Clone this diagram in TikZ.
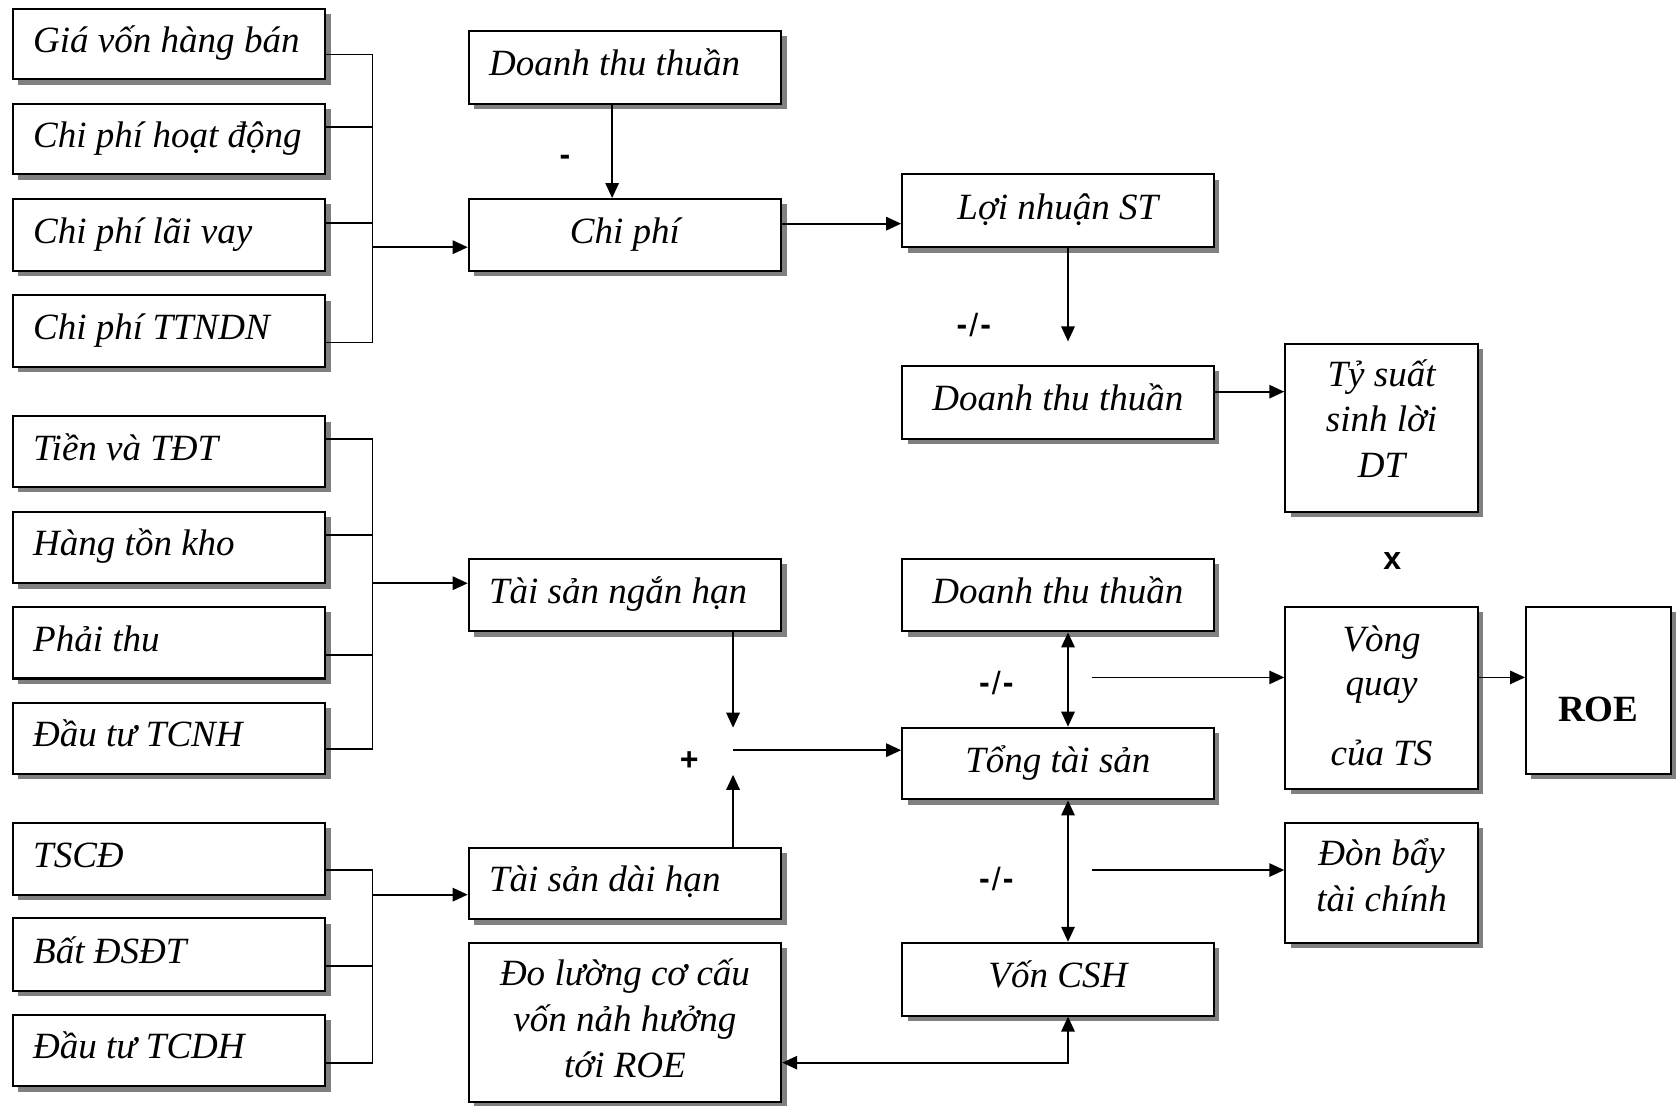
\documentclass[tikz,border=0pt]{standalone}
\usepackage{fontspec}
\setmainfont{Liberation Serif}
\newfontfamily\signfont{Liberation Sans}
\usetikzlibrary{arrows.meta,shadows}
\definecolor{shadowgray}{RGB}{128,128,128}
% left-aligned label of fixed width inside a box
\newcommand\lefttext[1]{\makebox[254pt][l]{#1}}
% division sign between two ratios
\newcommand\divsign{{\bfseries-}\kern2pt\raisebox{-1pt}{/}\kern2pt{\bfseries-}}
\begin{document}
\begin{tikzpicture}[x=1pt,y=-1pt,
  box/.style={rectangle, draw, line width=1.9pt, fill=white, inner sep=0pt,
    general shadow={fill=shadowgray, shadow xshift=5pt, shadow yshift=-5pt}},
  bigfont/.style={font=\fontsize{34.6pt}{42.5pt}\selectfont\itshape},
  txt/.style={bigfont, text height=24pt, text depth=8pt},
  lbox/.style={box, txt, minimum width=292pt},
  cbox/.style={box, txt, minimum width=291pt, align=center},
  line/.style={bigfont, anchor=base, inner sep=0pt},
  sign/.style={font=\signfont\fontsize{30pt}{34pt}\selectfont, inner sep=0pt},
  bsign/.style={font=\signfont\bfseries\fontsize{30pt}{34pt}\selectfont, inner sep=0pt},
  conn/.style={line width=1.7pt},
  arr/.style={conn, -{Triangle[length=14pt,width=12.5pt]}},
  dbl/.style={conn, {Triangle[length=14pt,width=12.5pt]}-{Triangle[length=14pt,width=12.5pt]}}
]
\useasboundingbox (0,0) rectangle (1568,1033);

% ---- cost items ----
\node[lbox, minimum height=66pt] (gv)   at (158,41)    {\lefttext{Giá vốn hàng bán}};
\node[lbox, minimum height=66pt] (cphd) at (158,130)   {\lefttext{Chi phí hoạt động}};
\node[lbox, minimum height=67pt] (clv)  at (158,219.5) {\lefttext{Chi phí lãi vay}};
\node[lbox, minimum height=67pt] (ctt)  at (158,309.5) {\lefttext{Chi phí TTNDN}};

% ---- current assets ----
\node[lbox, minimum height=66pt] (tien) at (158,422)   {\lefttext{Tiền và TĐT}};
\node[lbox, minimum height=67pt] (htk)  at (158,511.5) {\lefttext{Hàng tồn kho}};
\node[lbox, minimum height=67pt] (pt)   at (158,600.5) {\lefttext{Phải thu}};
\node[lbox, minimum height=66pt] (dtnh) at (158,690)   {\lefttext{Đầu tư TCNH}};

% ---- long-term assets ----
\node[lbox, minimum height=67pt] (tscd) at (158,802.5) {\lefttext{TSCĐ}};
\node[lbox, minimum height=68pt] (bds)  at (158,892)   {\lefttext{Bất ĐSĐT}};
\node[lbox, minimum height=67pt] (dtdh) at (158,981.5) {\lefttext{Đầu tư TCDH}};

% ---- middle column ----
\node[lbox, minimum height=68pt] (dt1) at (584,63)    {\lefttext{Doanh thu thuần}};
\node[cbox, minimum width=292pt, minimum height=67pt] (cp) at (584,219.5) {Chi phí};
\node[lbox, minimum height=68pt] (tsn) at (584,556)   {\lefttext{Tài sản ngắn hạn}};
\node[lbox, minimum height=67pt] (tsd) at (584,825.5) {\lefttext{Tài sản dài hạn}};
\node[box, minimum width=292pt, minimum height=149pt] (dl) at (584,955.5) {};
\node[line] (dl1) at (584,921)  {Đo lường cơ cấu};
\node[line] (dl2) at (584,964)  {vốn nảh hưởng};
\node[line] (dl3) at (584,1007) {tới ROE};

% ---- right-middle column ----
\node[cbox, minimum height=68pt] (ln)   at (988.5,197)   {Lợi nhuận ST};
\node[cbox, minimum height=68pt] (dt2)  at (988.5,376)   {Doanh thu thuần};
\node[cbox, minimum height=68pt] (dt3)  at (988.5,556)   {Doanh thu thuần};
\node[cbox, minimum height=67pt] (tong) at (988.5,713.5) {Tổng tài sản};
\node[cbox, minimum height=68pt] (von)  at (988.5,915)   {Vốn CSH};

% ---- ratio boxes ----
\node[box, minimum width=180pt, minimum height=157pt] (ts) at (1291,399.5) {};
\node[line] (ts1) at (1291,361) {Tỷ suất};
\node[line] (ts2) at (1291,403) {sinh lời};
\node[line] (ts3) at (1291,446) {DT};

\node[box, minimum width=180pt, minimum height=170pt] (vq) at (1291,652) {};
\node[line] (vq1) at (1291,609) {Vòng};
\node[line] (vq2) at (1291,650) {quay};
\node[line] (vq3) at (1291,715) {của TS};

\node[box, minimum width=180pt, minimum height=112pt] (db) at (1291,825) {};
\node[line] (db1) at (1291,809) {Đòn bẩy};
\node[line] (db2) at (1291,852) {tài chính};

\node[box, minimum width=135pt, minimum height=156pt] (roe) at (1493.5,645) {};
\node[anchor=base, inner sep=0pt, font=\fontsize{34.6pt}{42.5pt}\selectfont\bfseries] (roet) at (1493.5,674) {ROE};

% ---- junction points ----
\coordinate (bus1) at (348,231);
\coordinate (bus2) at (348,545);
\coordinate (bus3) at (348,836);
\coordinate (sumN) at (685,680);
\coordinate (sumS) at (685,724);
\coordinate (sum)  at (685,701);
\coordinate (vqsrc) at (1020,633);
\coordinate (dbsrc) at (1020,813);

% ---- buses from the item boxes ----
\draw[conn] ([yshift=-10pt]gv.east) -| (bus1);
\draw[conn] ([yshift=11pt]cphd.east) -| (bus1);
\draw[conn] ([yshift=11.5pt]clv.east) -| (bus1);
\draw[conn] ([yshift=-10.5pt]ctt.east) -| (bus1);
\draw[arr] (bus1) -- (bus1 -| cp.west);

\draw[conn] ([yshift=12pt]tien.east) -| (bus2);
\draw[conn] ([yshift=11.5pt]htk.east) -| (bus2);
\draw[conn] ([yshift=-11.5pt]pt.east) -| (bus2);
\draw[conn] ([yshift=-10pt]dtnh.east) -| (bus2);
\draw[arr] (bus2) -- (bus2 -| tsn.west);

\draw[conn] ([yshift=-10.5pt]tscd.east) -| (bus3);
\draw[conn] ([yshift=-11pt]bds.east) -| (bus3);
\draw[conn] ([yshift=-11.5pt]dtdh.east) -| (bus3);
\draw[arr] (bus3) -- (bus3 -| tsd.west);

% ---- profit chain ----
\draw[arr] ([xshift=-12pt]dt1.south) -- ([xshift=-12pt]cp.north);
\draw[arr] ([yshift=10.5pt]cp.east) -- ([yshift=10.5pt]cp.east -| ln.west);
\draw[arr] ([xshift=9.5pt]ln.south) -- ([xshift=9.5pt,yshift=22pt]dt2.north);
\draw[arr] ([yshift=10pt]dt2.east) -- ([yshift=10pt]dt2.east -| ts.west);

% ---- asset sum ----
\draw[arr] (tsn.south -| sumN) -- (sumN);
\draw[arr] (tsd.north -| sumS) -- (sumS);
\draw[arr] (sum) -- (sum -| tong.west);

% ---- turnover and leverage ----
\draw[dbl] ([xshift=9.5pt]dt3.south) -- ([xshift=9.5pt]tong.north);
\draw[dbl] ([xshift=9.5pt]tong.south) -- ([xshift=9.5pt]von.north);
\draw[dbl] ([xshift=9.5pt]von.south) |- ([yshift=-37.5pt]dl.east);
\draw[arr] (vqsrc) -- (vqsrc -| vq.west);
\draw[arr] (dbsrc) -- (dbsrc -| db.west);
\draw[arr] ([yshift=19pt]vq.east) -- ([yshift=19pt]vq.east -| roe.west);

% ---- operation signs ----
\node[bsign] (s1) at (528,150) {-};
\node[sign] (s2) at (910,304) {\divsign};
\node[sign] (s3) at (931,638) {\divsign};
\node[sign] (s4) at (931,821) {\divsign};
\node[bsign] (s5) at (644,711) {+};
\node[bsign] (s6) at (1301,524) {x};
\end{tikzpicture}
\end{document}
